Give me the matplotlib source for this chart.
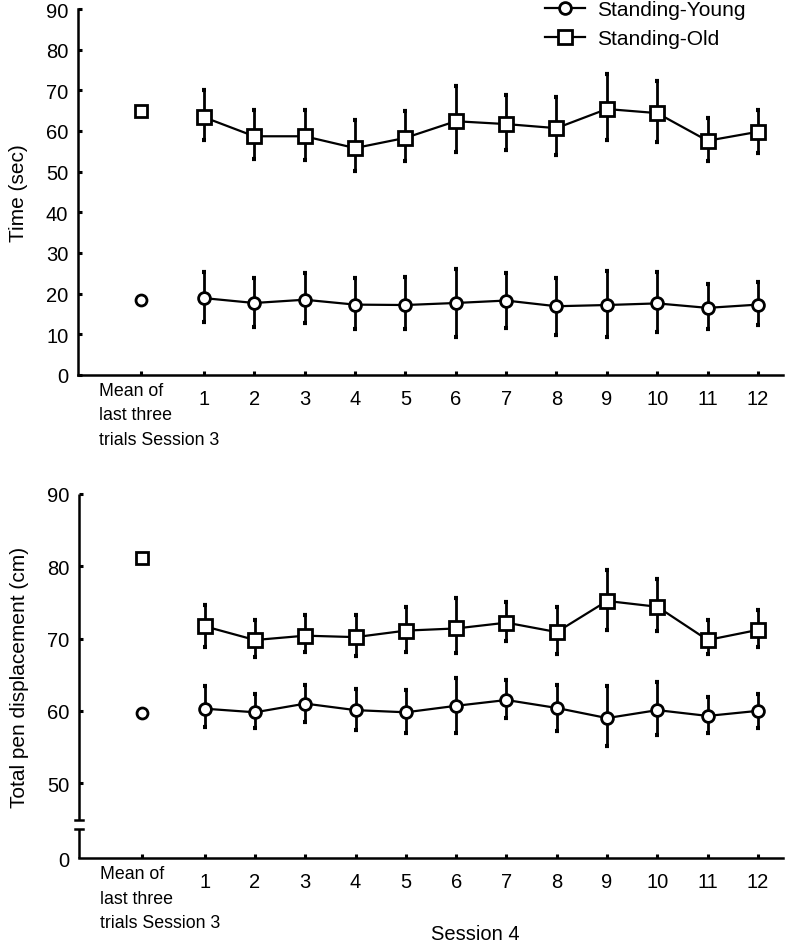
import numpy as np
import matplotlib
matplotlib.use("Agg")
import matplotlib.pyplot as plt
import matplotlib.transforms as mtransforms

plt.rcParams['font.family'] = ['Liberation Sans', 'DejaVu Sans']

# ---------------- DATA ----------------
sessions = list(range(1, 13))
mean_label_lines = ["Mean of", "last three", "trials Session 3"]

# Time (sec)
time_young = [18.9, 17.7, 18.5, 17.3, 17.2, 17.7, 18.3, 16.9, 17.2, 17.6, 16.5, 17.3]
time_young_hi = [25.2, 23.8, 25.0, 23.8, 24.0, 26.1, 25.0, 23.8, 25.6, 25.2, 22.4, 22.8]
time_young_lo = [13.1, 11.9, 12.7, 11.3, 11.3, 9.4, 11.6, 9.9, 9.3, 10.5, 11.3, 12.3]
time_old = [63.4, 58.7, 58.7, 55.8, 58.3, 62.4, 61.7, 60.7, 65.4, 64.4, 57.6, 59.8]
time_old_hi = [70.2, 65.2, 65.2, 62.7, 64.8, 71.0, 68.9, 68.3, 74.0, 72.2, 63.1, 65.2]
time_old_lo = [57.7, 53.1, 52.9, 50.1, 52.5, 54.9, 55.3, 54.2, 57.8, 57.4, 52.7, 54.6]
time_s3_young = 18.5
time_s3_old = 64.8

# Total pen displacement (cm)
pen_young = [60.3, 59.8, 61.0, 60.1, 59.8, 60.7, 61.5, 60.4, 59.0, 60.1, 59.3, 60.0]
pen_young_hi = [63.5, 62.4, 63.6, 63.0, 62.9, 64.6, 64.3, 63.6, 63.5, 64.0, 61.9, 62.4]
pen_young_lo = [57.8, 57.6, 58.5, 57.4, 56.9, 57.0, 59.0, 57.2, 55.2, 56.6, 56.9, 57.6]
pen_old = [71.7, 69.8, 70.4, 70.2, 71.1, 71.4, 72.2, 70.9, 75.2, 74.4, 69.8, 71.2]
pen_old_hi = [74.7, 72.6, 73.2, 73.2, 74.3, 75.6, 75.1, 74.3, 79.5, 78.3, 72.6, 73.9]
pen_old_lo = [68.9, 67.5, 68.2, 67.6, 68.2, 68.0, 69.7, 67.9, 71.2, 71.1, 67.8, 68.9]
pen_s3_young = 59.7
pen_s3_old = 81.1
# --------------------------------------

MEAN_X = -0.25
PEN_FLOOR = 39.6       # where the broken axis puts "0"
FS = 14.5
FS_LAB = 15
FS_MEAN = 12.8

fig = plt.figure(figsize=(7.87, 9.53), dpi=100)
ax1 = fig.add_axes([0.0991, 0.6055, 0.8959, 0.3840])
ax2 = fig.add_axes([0.1004, 0.0983, 0.8946, 0.3823])


def draw_series(ax, y, hi, lo, s3, marker, ms, label):
    y = np.array(y)
    yerr = [y - np.array(lo), np.array(hi) - y]
    ax.errorbar(sessions, y, yerr=yerr, fmt='none', ecolor='black',
                elinewidth=2.0, capsize=1.2, capthick=3, zorder=2)
    ax.plot(sessions, y, '-', color='black', lw=1.6, marker=marker, ms=ms,
            mfc='white', mec='black', mew=2.0, label=label, zorder=3)
    ax.plot([MEAN_X], [s3], linestyle='none', marker=marker, ms=ms - 0.6,
            mfc='white', mec='black', mew=2.0, zorder=3)


def style_axes(ax):
    for side in ['top', 'right']:
        ax.spines[side].set_visible(False)
    for side in ['left', 'bottom']:
        ax.spines[side].set_linewidth(1.8)
    ax.set_xlim(-1.5, 12.5)
    ax.set_xticks([MEAN_X] + sessions)
    ax.set_xticklabels([''] + [str(s) for s in sessions], fontsize=FS)
    ax.tick_params(axis='both', direction='in', length=3, width=2.2)
    ax.tick_params(axis='x', pad=10)
    ax.tick_params(axis='y', pad=7, labelsize=FS)
    trans = mtransforms.blended_transform_factory(ax.transData, ax.transAxes)
    for i, line in enumerate(mean_label_lines):
        off = mtransforms.ScaledTranslation(0, -(7 + 24.5 * i) / 100, fig.dpi_scale_trans)
        ax.text(-1.083, 0, line, transform=trans + off, ha='left', va='top',
                fontsize=FS_MEAN)


# top panel
draw_series(ax1, time_young, time_young_hi, time_young_lo, time_s3_young, 'o', 8.5, 'Standing-Young')
draw_series(ax1, time_old, time_old_hi, time_old_lo, time_s3_old, 's', 9.5, 'Standing-Old')
style_axes(ax1)
ax1.set_ylim(0, 90)
ax1.set_yticks(np.arange(0, 91, 10))
ax1.set_ylabel('Time (sec)', fontsize=FS_LAB, labelpad=13)

# bottom panel (broken y axis)
draw_series(ax2, pen_young, pen_young_hi, pen_young_lo, pen_s3_young, 'o', 8.5, 'Standing-Young')
draw_series(ax2, pen_old, pen_old_hi, pen_old_lo, pen_s3_old, 's', 9.5, 'Standing-Old')
style_axes(ax2)
ax2.set_ylim(PEN_FLOOR, 90)
ax2.set_yticks([PEN_FLOOR, 50, 60, 70, 80, 90])
ax2.set_yticklabels(['0', '50', '60', '70', '80', '90'])
ax2.set_ylabel('Total pen displacement (cm)', fontsize=FS_LAB, labelpad=13)
ax2.spines['left'].set_visible(False)
ytrans = mtransforms.blended_transform_factory(ax2.transAxes, ax2.transData)
brk_lo, brk_hi = 43.7, 44.9
ax2.plot([0, 0], [PEN_FLOOR, brk_lo], color='black', lw=1.8, transform=ytrans, clip_on=False,
         solid_capstyle='butt')
ax2.plot([0, 0], [brk_hi, 90], color='black', lw=1.8, transform=ytrans, clip_on=False,
         solid_capstyle='butt')
for yb in (brk_lo, brk_hi):
    ax2.plot([-0.006, 0.006], [yb, yb], color='black', lw=1.8, transform=ytrans, clip_on=False)
ax2.yaxis.get_major_ticks()[0].tick1line.set_visible(False)

fig.text(475 / 787, 1 - 935 / 953, 'Session 4', ha='center', va='center', fontsize=FS)

ax1.legend(loc='upper left', bbox_to_anchor=(545 / 787, 1 - 1 / 953),
           bbox_transform=fig.transFigure, frameon=False, fontsize=FS_LAB,
           handlelength=1.9, handletextpad=0.6, labelspacing=0.5, borderpad=0,
           borderaxespad=0)

fig.savefig('out.png', dpi=100)
